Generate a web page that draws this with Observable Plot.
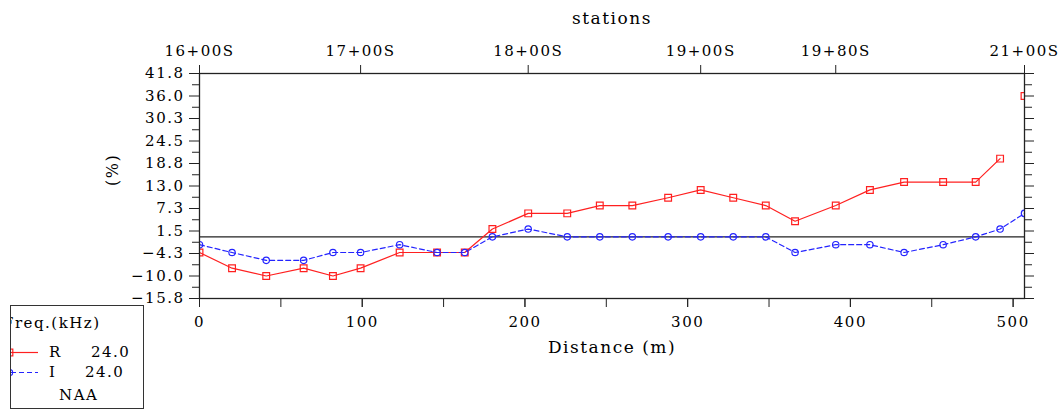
<!DOCTYPE html>
<html>
<head>
<meta charset="utf-8">
<script src="https://cdn.jsdelivr.net/npm/d3@7"></script>
<script src="https://cdn.jsdelivr.net/npm/@observablehq/plot@0.6"></script>
<style>
  html, body { margin: 0; padding: 0; background: white; }
  #wrap { position: relative; width: 1061px; height: 413px; overflow: hidden; }
  #legend { position: absolute; left: 10px; top: 305px; width: 132px; height: 102px;
            border: 1.5px solid #333; overflow: hidden; background: white;
            font-family: "DejaVu Serif", serif; font-size: 15px; letter-spacing: 1.5px; color: #000; }
  #legend div { position: absolute; white-space: pre; line-height: 1; }
</style>
</head>
<body>
<div id="wrap"></div>
<script>
// ---- data ----
const distance = [0, 20, 41, 64, 82, 99, 123, 146, 163, 180, 202, 226, 246, 266, 288, 308, 328, 348, 366, 391, 412, 433, 457, 477, 492, 507];
const realVals = [-4, -8, -10, -8, -10, -8, -4, -4, -4, 2, 6, 6, 8, 8, 10, 12, 10, 8, 4, 8, 12, 14, 14, 14, 20, 36];
const imagVals = [-2, -4, -6, -6, -4, -4, -2, -4, -4, 0, 2, 0, 0, 0, 0, 0, 0, 0, -4, -2, -2, -4, -2, 0, 2, 6];

const stationDist = [0, 99, 202, 308, 391, 507];
const stationLabels = ["16+00S", "17+00S", "18+00S", "19+00S", "19+80S", "21+00S"];

const yTicks = [41.75, 36, 30.25, 24.5, 18.75, 13, 7.25, 1.5, -4.25, -10, -15.75];
const yTickLabels = ["41.8", "36.0", "30.3", "24.5", "18.8", "13.0", "7.3", "1.5", "-4.3", "-10.0", "-15.8"];
const xLabelTicks = [0, 100, 200, 300, 400, 500];
const xMinorTicks = [0, 50, 100, 150, 200, 250, 300, 350, 400, 450, 500];

const seriesNames = ["R", "I"];
const seriesFreq = ["24.0", "24.0"];
const transmitter = "NAA";

// ---- build ----
const redC = "#ff2020", blueC = "#2424ff";
const realData = distance.map((d, i) => ({x: d, y: realVals[i]}));
const imagData = distance.map((d, i) => ({x: d, y: imagVals[i]}));
const yMinor = d3.pairs(yTicks).map(([a, b]) => (a + b) / 2);
const yLabelMap = new Map(yTicks.map((t, i) => [t, yTickLabels[i].replace("-", "\u2212")]));
const stationMap = new Map(stationDist.map((d, i) => [d, stationLabels[i]]));
const blank = () => "";

const chart = Plot.plot({
  width: 1061, height: 413,
  marginLeft: 199, marginRight: 37, marginTop: 73, marginBottom: 115,
  x: {domain: [0, 507]},
  y: {domain: [-15.75, 41.75]},
  style: {fontFamily: "DejaVu Serif, serif", fontSize: "15px", color: "#000", background: "white", letterSpacing: "1.5px"},
  marks: [
    Plot.ruleY([0], {stroke: "#222", strokeWidth: 1.2}),
    Plot.line(realData.filter(d => d.x < 500), {x: "x", y: "y", stroke: redC, strokeWidth: 1.2}),
    Plot.line(imagData, {x: "x", y: "y", stroke: blueC, strokeWidth: 1.2, strokeDasharray: "5,3"}),
    Plot.dot(realData, {x: "x", y: "y", symbol: "square", r: 3.8, stroke: redC, strokeWidth: 1.2, clip: true}),
    Plot.dot(imagData, {x: "x", y: "y", symbol: "circle", r: 3.2, stroke: blueC, strokeWidth: 1.2, clip: true}),
    Plot.frame({stroke: "#222", strokeWidth: 1.3}),
    Plot.axisY({ticks: yTicks, tickSize: 10, tickPadding: 5, tickFormat: d => yLabelMap.get(d), label: null, stroke: "#222"}),
    Plot.axisY({ticks: yMinor, tickSize: 7, tickFormat: blank, label: null, stroke: "#222"}),
    Plot.axisY({anchor: "right", ticks: yTicks, tickSize: 9, tickFormat: blank, label: null, stroke: "#222"}),
    Plot.axisY({anchor: "right", ticks: yMinor, tickSize: 7, tickFormat: blank, label: null, stroke: "#222"}),
    Plot.axisX({anchor: "bottom", ticks: xMinorTicks, tickSize: 9, tickFormat: blank, label: null, stroke: "#222"}),
    Plot.axisX({anchor: "bottom", ticks: xLabelTicks, tickSize: 9, tickPadding: 9, label: null, stroke: "#222"}),
    Plot.axisX({anchor: "top", ticks: stationDist, tickSize: 9, tickPadding: 9, tickFormat: d => stationMap.get(d), label: null, stroke: "#222"}),
    Plot.text(["stations"], {text: d => d, frameAnchor: "top", dy: -62, fontSize: 17}),
    Plot.text(["Distance (m)"], {text: d => d, frameAnchor: "bottom", dy: 54, fontSize: 17}),
    Plot.text(["(%)"], {text: d => d, frameAnchor: "left", dx: -87, rotate: -90, fontSize: 16})
  ]
});
const wrap = document.getElementById("wrap");
wrap.appendChild(chart);

// ---- legend ----
const legend = document.createElement("div");
legend.id = "legend";
const colors = [redC, blueC];
const dashes = ["none", "5,3"];
let html = `<div style="left:-8px;top:10px">Freq.(kHz)</div>`;
html += `<svg width="132" height="102" style="position:absolute;left:0;top:0">`;
seriesNames.forEach((s, i) => {
  const y = 46.5 + i * 20;
  html += `<line x1="0" x2="27" y1="${y}" y2="${y}" stroke="${colors[i]}" stroke-width="1.2" stroke-dasharray="${dashes[i]}"/>`;
  if (i === 0) html += `<rect x="-5" y="${y - 3.4}" width="6.8" height="6.8" fill="none" stroke="${colors[i]}" stroke-width="1.2"/>`;
  else html += `<circle cx="-1.5" cy="${y}" r="3.2" fill="none" stroke="${colors[i]}" stroke-width="1.2"/>`;
});
html += `</svg>`;
const freqLeft = [80, 74];
seriesNames.forEach((s, i) => {
  const top = 39 + i * 20;
  html += `<div style="left:38px;top:${top}px">${s}</div>`;
  html += `<div style="left:${freqLeft[i]}px;top:${top}px">${seriesFreq[i]}</div>`;
});
html += `<div style="left:48px;top:82px">${transmitter}</div>`;
legend.innerHTML = html;
wrap.appendChild(legend);
</script>
</body>
</html>
